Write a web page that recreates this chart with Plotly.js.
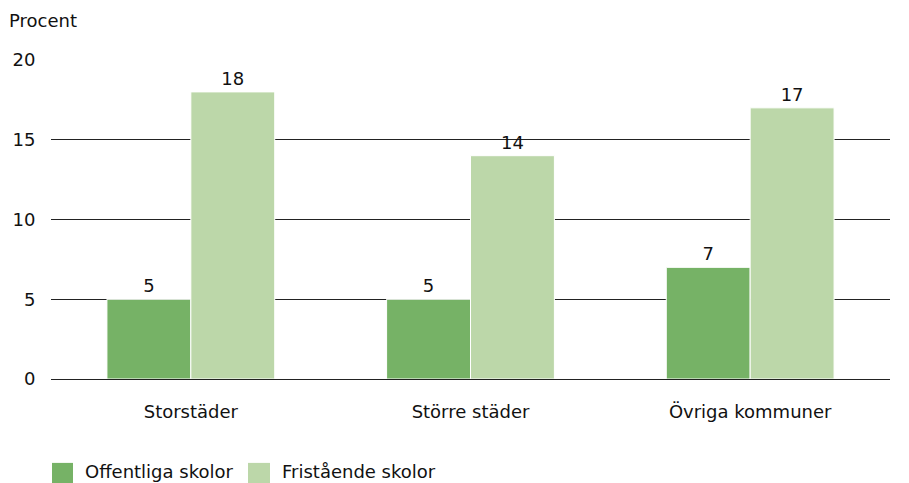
<!DOCTYPE html>
<html>
<head>
<meta charset="utf-8">
<script src="https://cdn.plot.ly/plotly-3.0.1.min.js"></script>
<style>html,body{margin:0;padding:0;background:#fff;}#chart{width:909px;height:483px;}</style>
</head>
<body>
<div id="chart"></div>
<script>
const categories = ["Storstäder", "Större städer", "Övriga kommuner"];
const offentliga = [5, 5, 7];
const fristaende = [18, 14, 17];
const seriesNames = ["Offentliga skolor", "Fristående skolor"];
const seriesColors = ["#76b266", "#bcd7a9"];
const yTicks = [0, 5, 10, 15, 20];

const FONT = "DejaVu Sans, Liberation Sans, sans-serif";
const FS = 18;
const traces = [offentliga, fristaende].map((vals, i) => ({
  type: "bar", name: seriesNames[i], x: categories, y: vals,
  marker: {color: seriesColors[i], line: {color: "#ffffff", width: 1}},
  text: vals.map(String), textposition: "outside",
  textfont: {family: FONT, size: FS, color: "#111"}, cliponaxis: false,
  showlegend: false, hoverinfo: "x+y"
}));

// legend drawn in paper space (large swatches like the reference)
const legendSwatchX = [[0.0012, 0.0262], [0.2348, 0.261]];
const legendTextX = [0.0381, 0.273];
const shapes = seriesNames.map((n, i) => ({
  type: "rect", xref: "paper", yref: "paper",
  x0: legendSwatchX[i][0], x1: legendSwatchX[i][1], y0: -0.33, y1: -0.263,
  fillcolor: seriesColors[i], line: {width: 0}
}));
const annotations = seriesNames.map((n, i) => ({
  text: n, xref: "paper", yref: "paper", x: legendTextX[i], y: -0.29,
  xanchor: "left", yanchor: "middle", showarrow: false,
  font: {family: FONT, size: FS, color: "#111"}
}));
annotations.push({text: "Procent", xref: "paper", yref: "paper", x: -0.052, y: 1.125,
  xanchor: "left", yanchor: "middle", showarrow: false,
  font: {family: FONT, size: 18, color: "#111"}});

const layout = {
  width: 909, height: 483,
  margin: {l: 51, r: 19, t: 60, b: 104},
  paper_bgcolor: "#fff", plot_bgcolor: "#fff",
  font: {family: FONT, size: FS, color: "#111"},
  barmode: "group", bargap: 0.40, bargroupgap: 0,
  xaxis: {
    showgrid: false, zeroline: false, showline: false,
    ticks: "outside", ticklen: 16, tickcolor: "rgba(0,0,0,0)",
    tickfont: {size: FS, color: "#111"}, fixedrange: true
  },
  yaxis: {
    range: [0, 20], tickvals: yTicks, ticktext: yTicks.map(String),
    showgrid: true, gridcolor: "#222", gridwidth: 1,
    zeroline: true, zerolinecolor: "#222", zerolinewidth: 1,
    showline: false, ticks: "outside", ticklen: 11, tickcolor: "rgba(0,0,0,0)",
    tickfont: {size: FS, color: "#111"}, fixedrange: true
  },
  showlegend: false,
  shapes: shapes,
  annotations: annotations
};

Plotly.newPlot("chart", traces, layout, {displayModeBar: false});
</script>
</body>
</html>
